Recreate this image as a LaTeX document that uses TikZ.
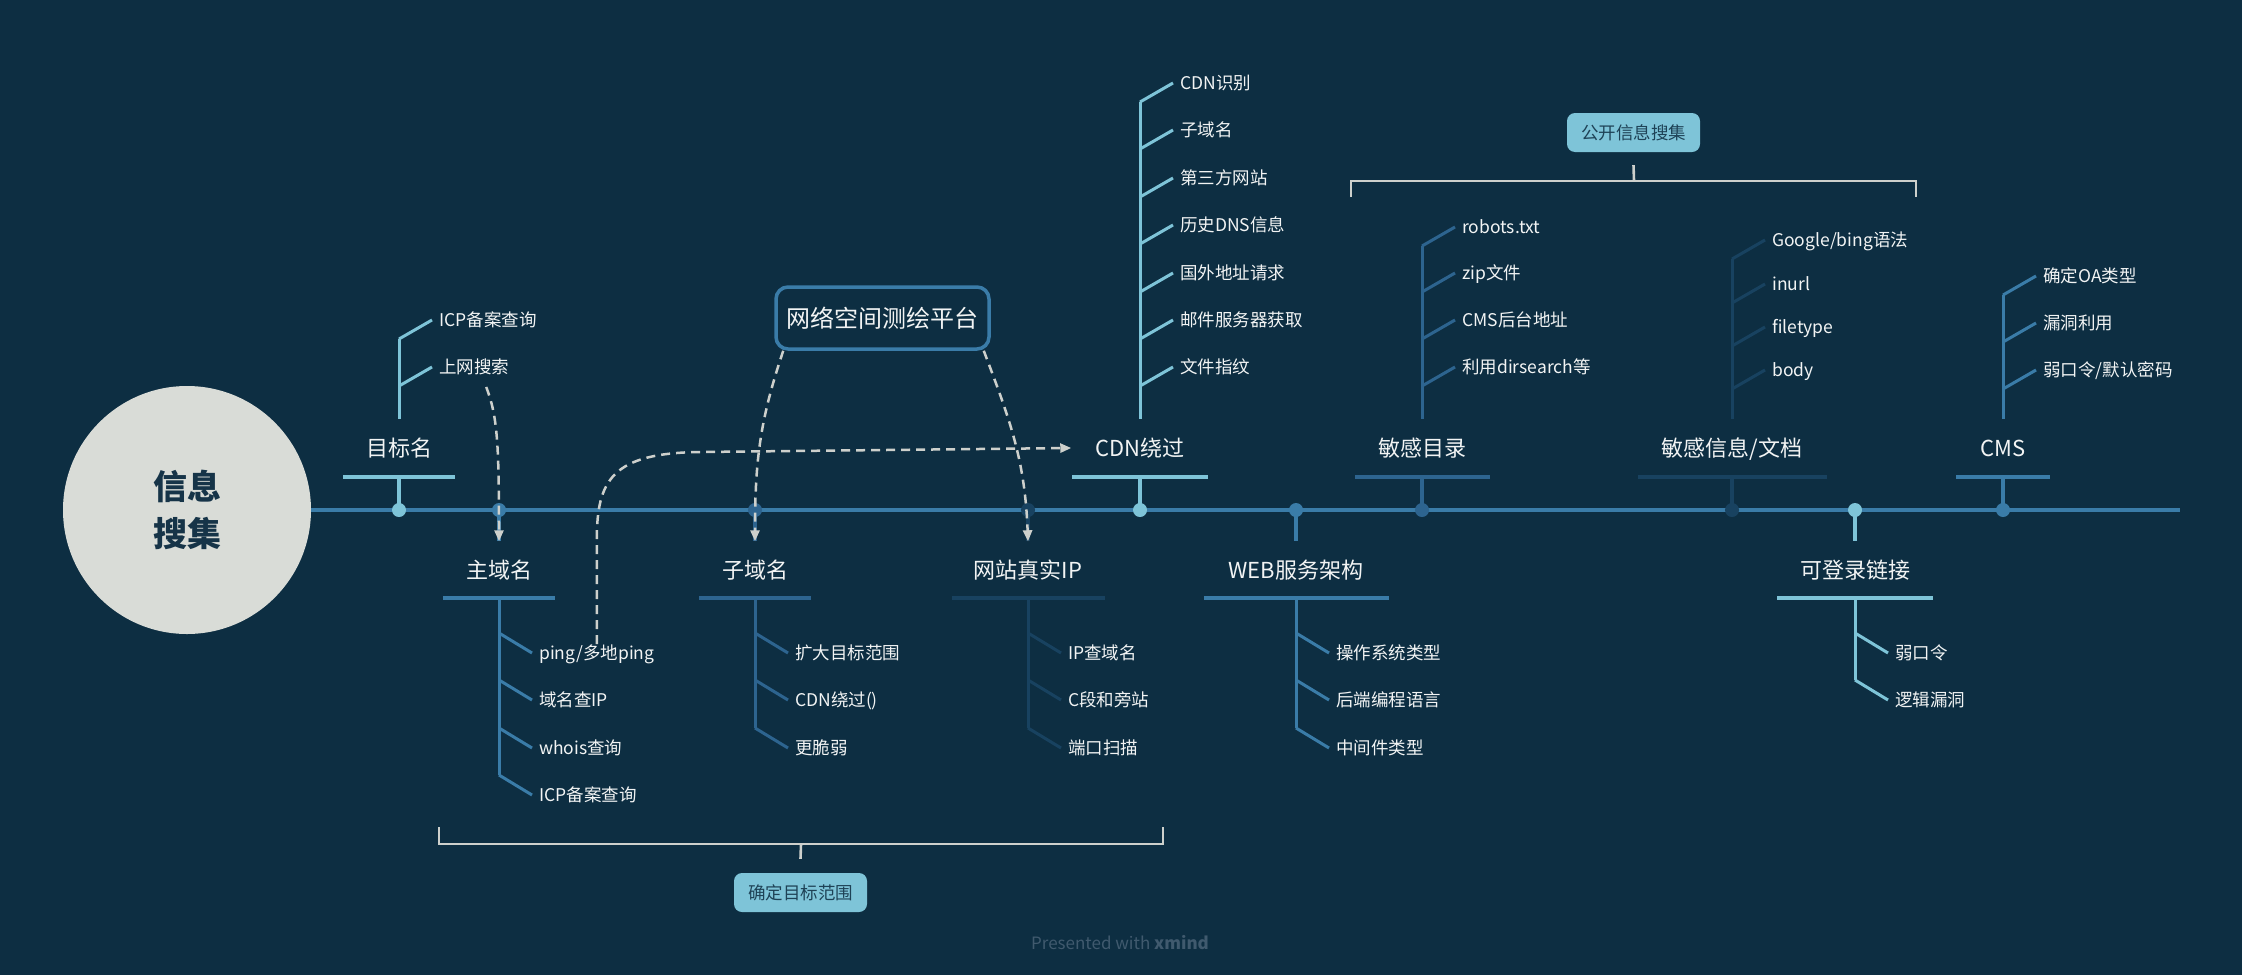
\documentclass[tikz,border=0pt]{standalone}
\usepackage{fontspec}
\setmainfont{Noto Sans CJK SC}
\usetikzlibrary{arrows.meta}
\definecolor{bg}{RGB}{13,46,66}
\definecolor{cF}{RGB}{217,220,215}
\definecolor{cT}{RGB}{22,52,72}
\definecolor{cL}{RGB}{126,196,216}
\definecolor{cM}{RGB}{58,124,168}
\definecolor{cD}{RGB}{45,100,143}
\definecolor{cDD}{RGB}{24,66,96}
\definecolor{cW}{RGB}{242,244,244}
\definecolor{cG}{RGB}{205,208,204}
\definecolor{cBT}{RGB}{30,66,86}
\definecolor{cWM}{RGB}{64,90,110}
\tikzset{
  dot/.style={circle,inner sep=0pt,minimum size=14pt,draw=none},
  ulbar/.style={rectangle,inner sep=0pt,minimum height=4pt,draw=none},
  lbl/.style={inner sep=0pt,minimum height=57pt,text=cW,font=\fontsize{22pt}{26pt}\selectfont,text height=19.4pt,text depth=2.6pt},
  kid/.style={anchor=west,inner sep=0pt,text=cW,font=\fontsize{17.5pt}{21pt}\selectfont,text height=15.4pt,text depth=2.1pt},
  stem/.style={line width=4pt},
  br/.style={line width=3pt},
  spine/.style={line width=4.5pt,draw=cM},
  dsh/.style={draw=cG,line width=2.5pt,dash pattern=on 9pt off 6pt,-{Triangle[length=11pt,width=9pt]}},
  brk/.style={draw=cG,line width=2.6pt},
  tagbox/.style={rectangle,rounded corners=8pt,fill=cL,text=cBT,minimum width=133pt,minimum height=39pt,inner sep=0pt,font=\fontsize{17.5pt}{21pt}\selectfont},
}
\newcommand\TK[5]{\node[kid] (#1) at (#2+40,#3) {#4};
  \draw[br,draw=#5] (#1.west) ++(-7,0) -- ++(-33,19);}
\newcommand\BK[5]{\node[kid] (#1) at (#2+40,#3) {#4};
  \draw[br,draw=#5] (#1.west) ++(-7,0) -- ++(-33,-20);}
\newcommand\TB[6]{%
  \node[dot,fill=#5] (#1d) at (#2,510) {};
  \node[ulbar,fill=#5,minimum width=#4] (#1u) at (#2,477) {};
  \node[lbl] (#1) at (#2,448) {#3};
  \draw[stem,draw=#5] (#1d.center) -- (#1u.center);
  \draw[br,draw=#5] (#2,#6) -- (#1.north);}
\newcommand\BB[6]{%
  \node[dot,fill=#5] (#1d) at (#2,510) {};
  \node[ulbar,fill=#5,minimum width=#4] (#1u) at (#2,598) {};
  \node[lbl] (#1) at (#2,570) {#3};
  \draw[stem,draw=#5] (#1d.center) -- (#1.north);
  \draw[br,draw=#5] (#1u.center) -- (#2,#6);}
\begin{document}
\begin{tikzpicture}[x=1pt,y=-1pt]
\fill[bg] (0,0) rectangle (2242,975);
\useasboundingbox (0,0) rectangle (2242,975);
% root
\node[circle,fill=cF,minimum size=248pt,inner sep=0pt,text=cT,align=center,
  font=\fontsize{34pt}{47pt}\selectfont\bfseries] (root) at (187,510) {信息\\搜集};
\coordinate (spend) at (2180,510);
\draw[spine] (root.east) -- (spend);
% branches
\TB{tg}{399}{目标名}{112}{cL}{339}
\TK{tgA}{399}{320}{ICP备案查询}{cL}
\TK{tgB}{399}{367}{上网搜索}{cL}

\BB{zy}{499}{主域名}{112}{cM}{775}
\BK{zyA}{499}{653}{ping/多地ping}{cM}
\BK{zyB}{499}{700}{域名查IP}{cM}
\BK{zyC}{499}{748}{whois查询}{cM}
\BK{zyD}{499}{795}{ICP备案查询}{cM}

\BB{zd}{755}{子域名}{112}{cD}{728}
\BK{zdA}{755}{653}{扩大目标范围}{cD}
\BK{zdB}{755}{700}{CDN绕过()}{cD}
\BK{zdC}{755}{748}{更脆弱}{cD}

\BB{ip}{1028}{网站真实IP}{153}{cDD}{728}
\BK{ipA}{1028}{653}{IP查域名}{cDD}
\BK{ipB}{1028}{700}{C段和旁站}{cDD}
\BK{ipC}{1028}{748}{端口扫描}{cDD}

\TB{cdn}{1140}{CDN绕过}{136}{cL}{102}
\TK{cdnA}{1140}{83}{CDN识别}{cL}
\TK{cdnB}{1140}{130}{子域名}{cL}
\TK{cdnC}{1140}{178}{第三方网站}{cL}
\TK{cdnD}{1140}{225}{历史DNS信息}{cL}
\TK{cdnE}{1140}{273}{国外地址请求}{cL}
\TK{cdnF}{1140}{320}{邮件服务器获取}{cL}
\TK{cdnG}{1140}{367}{文件指纹}{cL}

\BB{web}{1296}{WEB服务架构}{185}{cM}{728}
\BK{webA}{1296}{653}{操作系统类型}{cM}
\BK{webB}{1296}{700}{后端编程语言}{cM}
\BK{webC}{1296}{748}{中间件类型}{cM}

\TB{ml}{1422}{敏感目录}{135}{cD}{246}
\TK{mlA}{1422}{227}{robots.txt}{cD}
\TK{mlB}{1422}{273}{zip文件}{cD}
\TK{mlC}{1422}{320}{CMS后台地址}{cD}
\TK{mlD}{1422}{367}{利用dirsearch等}{cD}

\TB{mx}{1732}{敏感信息/文档}{189}{cDD}{259}
\TK{mxA}{1732}{240}{Google/bing语法}{cDD}
\TK{mxB}{1732}{284}{inurl}{cDD}
\TK{mxC}{1732}{327}{filetype}{cDD}
\TK{mxD}{1732}{370}{body}{cDD}

\BB{dl}{1855}{可登录链接}{156}{cL}{680}
\BK{dlA}{1855}{653}{弱口令}{cL}
\BK{dlB}{1855}{700}{逻辑漏洞}{cL}

\TB{cms}{2003}{CMS}{94}{cM}{295}
\TK{cmsA}{2003}{276}{确定OA类型}{cM}
\TK{cmsB}{2003}{323}{漏洞利用}{cM}
\TK{cmsC}{2003}{370}{弱口令/默认密码}{cM}

% platform box
\node[rectangle,rounded corners=12pt,draw=cM,fill=bg,line width=3.5pt,minimum width=213pt,minimum height=62pt,inner sep=0pt,text=cW,font=\fontsize{24pt}{28pt}\selectfont] (plat) at (882.5,318) {网络空间测绘平台};

% dashed arrows
\draw[dsh] (tgB.south) ++(12,11) .. controls (497,415) and (499,440) .. (zy.north);
\draw[dsh] (plat.south west) ++(9,0) .. controls (760,420) and (755,460) .. (zd.north);
\draw[dsh] (plat.south east) ++(-7,0) .. controls (1010,420) and (1025,460) .. (ip.north);
\draw[dsh] (zyA.north) -- (zyA.north |- 0,540) .. controls (zyA.north |- 0,480) and (612,453) .. (700,452) -- ([xshift=-24pt]cdn.west);

% brackets
\node[tagbox] (bx1) at (800.5,892.5) {确定目标范围};
\node[tagbox] (bx2) at (1633.5,132.5) {公开信息搜集};
\draw[brk] (439,827) -- (439,844) -- (1163,844) -- (1163,827);
\draw[brk] (801,844) -- ([yshift=14pt]bx1.north);
\draw[brk] (1351,197) -- (1351,181) -- (1916,181) -- (1916,197);
\draw[brk] (1634,181) -- ([yshift=-13pt]bx2.south);

% watermark
\node[text=cWM,inner sep=0pt,font=\fontsize{17pt}{20pt}\selectfont] (wm) at (1120,943) {Presented with \textbf{xmind}};
\end{tikzpicture}
\end{document}
